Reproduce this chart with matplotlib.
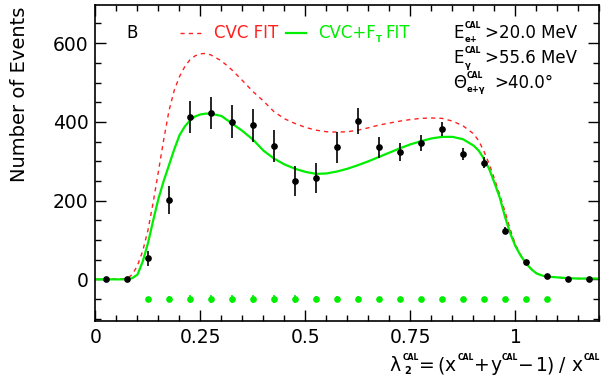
import matplotlib
matplotlib.use("Agg")
import matplotlib.pyplot as plt
from matplotlib.ticker import MultipleLocator
from matplotlib.transforms import IdentityTransform
from matplotlib.lines import Line2D

plt.rcParams['font.family'] = ['DejaVu Sans']

# Data points (bin centers)
x_data = [0.025, 0.075, 0.125, 0.175, 0.225, 0.275, 0.325, 0.375, 0.425, 0.475,
          0.525, 0.575, 0.625, 0.675, 0.725, 0.775, 0.825, 0.875, 0.925, 0.975,
          1.025, 1.075, 1.125, 1.175]
y_data = [0, 0, 53, 202, 413, 423, 401, 391, 338, 250,
          258, 335, 402, 335, 324, 346, 382, 318, 296, 124,
          45, 8, 2, 0]
y_err = [2, 2, 20, 35, 41, 40, 41, 41, 41, 39,
         38, 39, 33, 26, 23, 21, 19, 15, 14, 8,
         5, 3, 2, 2]

# Points at -50
x_res = [0.125, 0.175, 0.225, 0.275, 0.325, 0.375, 0.425, 0.475, 0.525, 0.575,
         0.625, 0.675, 0.725, 0.775, 0.825, 0.875, 0.925, 0.975, 1.025, 1.075]
y_res = [-50] * 20
err_res = [0, 8, 9, 9, 9, 9, 9, 9, 8, 8, 7, 6, 4, 0, 0, 0, 0, 0, 0, 0]

# Fit curves
x_fit = [0.000, 0.025, 0.050, 0.075, 0.0875, 0.100, 0.1125, 0.125, 0.1375, 0.150,
         0.1625, 0.175, 0.1875, 0.200, 0.2125, 0.225, 0.2375, 0.250, 0.2625, 0.275,
         0.300, 0.325, 0.350, 0.375, 0.400, 0.425, 0.450, 0.475, 0.500, 0.525,
         0.550, 0.575, 0.600, 0.625, 0.650, 0.675, 0.700, 0.725, 0.750, 0.775,
         0.800, 0.825, 0.850, 0.875, 0.900, 0.9125, 0.925, 0.9375, 0.950, 0.9625,
         0.975, 0.9875, 1.000, 1.0125, 1.025, 1.0375, 1.050, 1.0625, 1.075, 1.100,
         1.125, 1.150, 1.175, 1.200]
y_green = [0, 0, 0, 0, 3, 12, 45, 92, 150, 205,
           250, 290, 330, 366, 388, 404, 414, 419, 421, 421,
           415, 396, 377, 355, 327, 307, 292, 281, 273, 268,
           269, 274, 281, 290, 300, 311, 322, 333, 343, 351,
           358, 362, 362, 356, 340, 327, 306, 280, 245, 208,
           159, 117, 84, 60, 41, 26, 15, 10, 7, 5,
           3, 2, 2, 2]
y_red = [0, 0, 1, 2, 12, 35, 72, 125, 196, 275,
         355, 428, 480, 515, 540, 558, 568, 573, 574, 570,
         555, 532, 505, 477, 453, 426, 408, 396, 386, 379,
         375, 374, 375, 379, 385, 392, 397, 402, 406, 409,
         410, 409, 402, 390, 370, 352, 325, 293, 255, 215,
         172, 127, 88, 62, 42, 27, 16, 10, 7, 5,
         3, 2, 2, 2]

RED = '#ff2020'
GREEN = '#00ee00'
H = 381
ID = IdentityTransform()

fig = plt.figure(figsize=(6.08, 3.81), dpi=100)
ax = fig.add_axes([0.157, 0.1583, 0.829, 0.8286])

ax.plot(x_fit, y_red, color=RED, lw=1.0, ls=(0, (3, 3)))
ax.plot(x_fit, y_green, color=GREEN, lw=1.6)
ax.errorbar(x_data, y_data, yerr=y_err, fmt='o', color='black', ms=3.8,
            elinewidth=1.2, capsize=0)
ax.errorbar(x_res, y_res, yerr=err_res, fmt='o', color=GREEN, ms=3.8,
            elinewidth=1.2, capsize=0)

ax.set_xlim(0, 1.2)
ax.set_ylim(-105, 697)
ax.xaxis.set_minor_locator(MultipleLocator(0.05))
ax.yaxis.set_major_locator(MultipleLocator(200))
ax.yaxis.set_minor_locator(MultipleLocator(50))
ax.set_xticks([0, 0.25, 0.5, 0.75, 1])
ax.set_xticklabels(['0', '0.25', '0.5', '0.75', '1'])
ax.tick_params(which='both', direction='in', top=True, right=True,
               labelsize=13.5, width=1)
ax.tick_params(which='major', length=8, pad=5)
ax.tick_params(which='minor', length=4)
for s in ax.spines.values():
    s.set_linewidth(1.2)

# y label, placed at the top like the original
fig.text(20 / 608, 1 - 7 / H, 'Number of Events', rotation=90, fontsize=14,
         ha='center', va='top')

renderer = fig.canvas.get_renderer()


def put(px, py, txt, size, bold=False, color='black'):
    """Text piece at pixel position (px from left, py baseline from top)."""
    t = fig.text(px, H - py, txt, fontsize=size, color=color,
                 fontweight='bold' if bold else 'normal',
                 transform=ID, ha='left', va='baseline')
    return t.get_window_extent(renderer).x1


SUP = 5.5
MAIN = 13.5
# x-axis label: λ2^CAL = (x^CAL + y^CAL − 1) / x^CAL
base = 371
put(389, base, 'λ', MAIN)
put(403, base - 11, 'CAL', SUP, True)
put(404, base + 2.5, '2', 7, True)
put(419, base, '=', MAIN)
put(437, base, '(', MAIN)
put(444, base, 'x', MAIN)
put(458, base - 11, 'CAL', SUP, True)
put(474, base, '+', MAIN)
put(490, base, 'y', MAIN)
put(502, base - 11, 'CAL', SUP, True)
put(518, base, '\u2212', MAIN)
put(536, base, '1', MAIN)
put(547, base, ')', MAIN)
put(559, base, '/', MAIN)
put(571, base, 'x', MAIN)
put(584, base - 11, 'CAL', SUP, True)

# Legend row
put(126, 38, 'B', 12)
fig.add_artist(Line2D([180, 201], [H - 32.7, H - 32.7], color=RED, lw=1.0,
                      ls=(0, (3, 3)), transform=ID))
put(214, 38, 'CVC FIT', 12, color=RED)
fig.add_artist(Line2D([286, 306], [H - 32.7, H - 32.7], color=GREEN, lw=1.6,
                      transform=ID))
xe = put(318, 38, 'CVC+F', 12, color=GREEN)
xe = put(xe, 41.5, 'T', 6, True, color=GREEN)
put(xe + 4, 38, 'FIT', 12, color=GREEN)

# Cut annotations
for py, main, sub, rest, xs, xr in [(38, 'E', 'e+', '>20.0 MeV', 465, 485),
                                     (63, 'E', 'γ', '>55.6 MeV', 465, 485),
                                     (88, 'Θ', 'e+γ', '>40.0°', 467, 494)]:
    put(453, py, main, 12)
    put(xs, py - 10, 'CAL', SUP, True)
    put(xs, py + 4.5, sub, SUP + 0.5, True)
    put(xr, py, rest, 12)

fig.savefig('out.png', dpi=100)
